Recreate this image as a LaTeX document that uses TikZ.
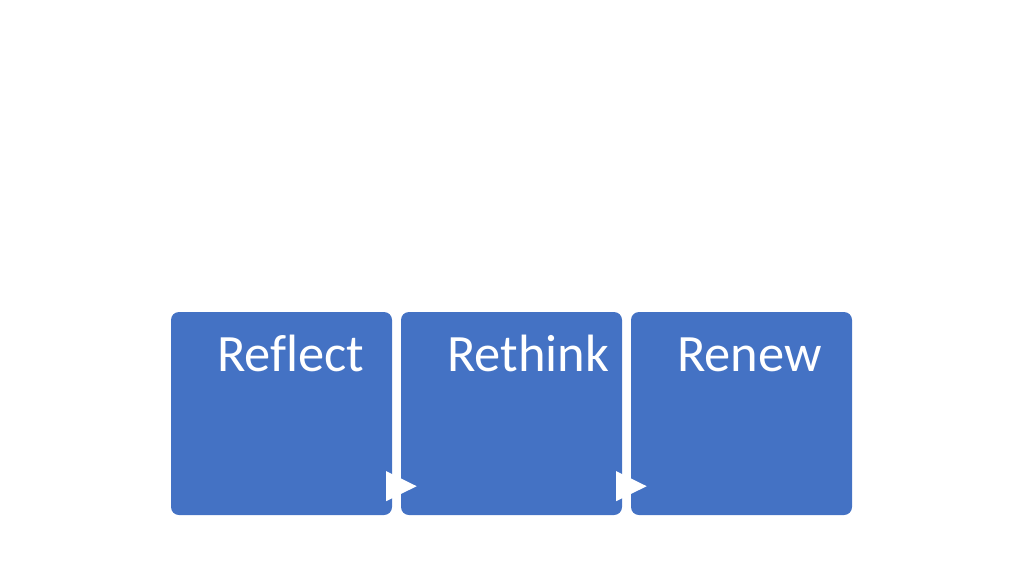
\documentclass[tikz,border=0pt]{standalone}
\usepackage{fontspec}
\setmainfont[Ligatures=NoCommon]{Carlito}
\begin{document}
\begin{tikzpicture}[x=1pt,y=-1pt,
  stage/.style={fill=boxblue, draw=none, rounded corners=8pt, minimum width=221pt, minimum height=203pt, inner sep=0pt},
  label/.style={text=white, font=\fontsize{52.5}{60}\selectfont, anchor=base west, inner sep=0pt},
  tri/.style={fill=white, draw=none}]
\definecolor{boxblue}{HTML}{4472C4}
\useasboundingbox (0,0) rectangle (1024,576);
\node[stage] (b1) at (281.5,413.5) {};
\node[stage] (b2) at (511.5,413.5) {};
\node[stage] (b3) at (741.5,413.5) {};
\node[label] (t1) at (217,371) {Reflect};
\node[label] (t2) at (447,371) {Rethink};
\node[label] (t3) at (677,371) {Renew};
\coordinate (a1) at ([xshift=-6pt,yshift=29pt]b1.south east);
\coordinate (a2) at ([xshift=-6pt,yshift=29pt]b2.south east);
\fill[tri] (a1) ++(0,-15) -- ++(30.5,15) -- ++(-30.5,15) -- cycle;
\fill[tri] (a2) ++(0,-15) -- ++(30.5,15) -- ++(-30.5,15) -- cycle;
\end{tikzpicture}
\end{document}
